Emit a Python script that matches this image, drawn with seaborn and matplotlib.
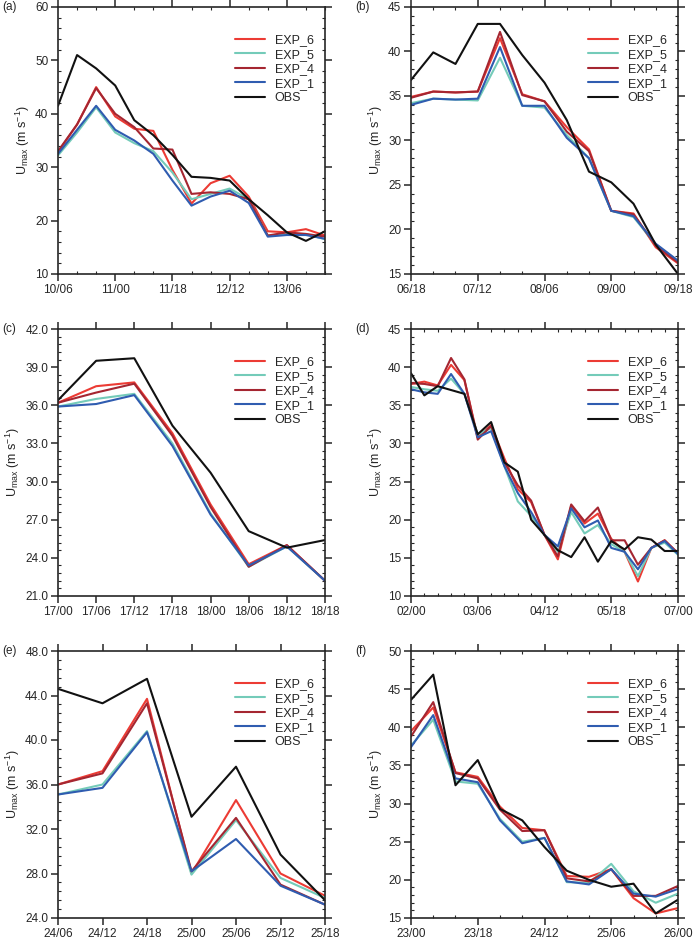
import numpy as np
import pandas as pd
import matplotlib
matplotlib.use("Agg")
import matplotlib.pyplot as plt
import seaborn as sns
from matplotlib.ticker import AutoMinorLocator, MultipleLocator, FormatStrFormatter

series = ["EXP_6", "EXP_5", "EXP_4", "EXP_1", "OBS"]
colors = {"EXP_6": "#ec3b34", "EXP_5": "#74cbb9", "EXP_4": "#a52631",
          "EXP_1": "#2f5cb0", "OBS": "#111111"}

# panel (a)
a_ticks = ["10/06", "11/00", "11/18", "12/12", "13/06"]
a_obs = [41.5, 51, 48.5, 45.3, 38.8, 36, 32.3, 28.2, 28, 27.5, 24, 21, 17.8, 16.2, 18]
a_e6 = [32.8, 38, 45, 39.5, 37.2, 36.8, 29.5, 23.2, 27, 28.4, 24.5, 18, 17.8, 18.4, 17.2]
a_e4 = [33, 38, 44.8, 40, 37.5, 33.5, 33.3, 25, 25.3, 25, 24, 17.2, 17.8, 17.5, 17]
a_e5 = [32.2, 36.5, 41.2, 36.5, 34.5, 33, 29, 24, 25, 26, 24, 17.2, 17.5, 17.5, 16.5]
a_e1 = [32.5, 37, 41.5, 37, 35, 32.5, 27.5, 22.8, 24.5, 25.6, 23.3, 17, 17.3, 17.3, 16.6]

# panel (b)
b_ticks = ["06/18", "07/12", "08/06", "09/00", "09/18"]
b_obs = [36.8, 39.9, 38.6, 43.1, 43.1, 39.6, 36.5, 32.3, 26.5, 25.3, 22.9, 18.3, 15]
b_e6 = [34.9, 35.5, 35.4, 35.5, 41.5, 35.2, 34.4, 31.5, 29, 22.1, 21.8, 18, 16.2]
b_e4 = [34.8, 35.5, 35.4, 35.5, 42.2, 35.1, 34.4, 31, 28.8, 22.1, 21.7, 18.2, 16.3]
b_e5 = [34.2, 34.7, 34.6, 34.5, 39.3, 33.9, 33.7, 30.6, 28.0, 22.1, 21.4, 18.3, 16.4]
b_e1 = [34.0, 34.7, 34.6, 34.7, 40.5, 33.9, 33.9, 30.3, 28.0, 22.1, 21.5, 18.4, 16.5]

# panel (c)
c_ticks = ["17/00", "17/06", "17/12", "17/18", "18/00", "18/06", "18/12", "18/18"]
c_obs = [36.4, 39.5, 39.7, 34.4, 30.7, 26.1, 24.8, 25.4]
c_e6 = [36.2, 37.5, 37.8, 33.8, 28.2, 23.5, 25.0, 22.2]
c_e4 = [36.2, 37.0, 37.7, 33.6, 28.0, 23.3, 25.0, 22.2]
c_e5 = [35.9, 36.5, 36.9, 33.0, 27.5, 23.3, 24.9, 22.2]
c_e1 = [35.9, 36.1, 36.8, 32.8, 27.4, 23.4, 24.9, 22.2]

# panel (d)
d_ticks = ["02/00", "03/06", "04/12", "05/18", "07/00"]
d_obs = [39.2, 36.3, 37.5, 37.0, 36.5, 31.2, 32.8, 27.5, 26.3, 20, 18, 16, 15.1, 17.7, 14.5, 17.2, 16.1, 17.7, 17.4, 15.9, 15.9]
d_e6 = [37.8, 38.1, 37.6, 40.3, 38.3, 30.8, 32.4, 28, 24, 22.3, 18, 14.8, 21.8, 19.5, 20.8, 17.5, 15.8, 11.9, 16.3, 17.3, 15.6]
d_e4 = [37.9, 37.8, 37.5, 41.2, 38.4, 30.5, 32.3, 27.5, 24.5, 22.5, 18, 15.2, 22, 19.8, 21.6, 17.3, 17.3, 14.1, 16.3, 17.3, 15.6]
d_e5 = [37.4, 37.1, 36.9, 38.5, 36.5, 31.2, 32, 27, 22.4, 20.5, 18, 15.8, 21, 18.2, 19.3, 16.8, 15.8, 12.6, 16.3, 17, 15.4]
d_e1 = [37.1, 36.7, 36.5, 39.1, 36.5, 30.8, 31.6, 27, 23.5, 21, 18, 16.5, 21.5, 19, 19.9, 16.3, 15.8, 13.5, 16.3, 17.2, 15.5]

# panel (e)
e_ticks = ["24/06", "24/12", "24/18", "25/00", "25/06", "25/12", "25/18"]
e_obs = [44.6, 43.3, 45.5, 33.1, 37.6, 29.7, 25.6]
e_e6 = [36.0, 37.2, 43.7, 28.0, 34.6, 28.0, 26.0]
e_e4 = [36.0, 37.0, 43.3, 28.2, 33.0, 27.0, 25.2]
e_e5 = [35.1, 36.0, 40.8, 27.9, 32.8, 27.6, 25.8]
e_e1 = [35.1, 35.7, 40.7, 28.2, 31.1, 26.9, 25.2]

# panel (f)
f_ticks = ["23/00", "23/18", "24/12", "25/06", "26/00"]
f_obs = [43.6, 46.9, 32.4, 35.7, 29.3, 27.8, 24.3, 21.2, 20.0, 19.1, 19.5, 15.6, 17.4]
f_e6 = [39.5, 42.6, 34.1, 33.5, 29.6, 26.8, 26.5, 20.5, 20.4, 21.4, 17.6, 15.6, 16.3]
f_e4 = [38.8, 43.3, 34, 33.3, 29.2, 26.4, 26.5, 20.2, 19.8, 21.4, 17.9, 17.9, 19.2]
f_e5 = [37.6, 41, 32.9, 32.6, 28, 25, 25.5, 19.7, 19.6, 22.1, 18.5, 17, 18.2]
f_e1 = [37.4, 41.6, 33.3, 32.8, 27.8, 24.8, 25.5, 19.8, 19.4, 21.4, 18.2, 17.8, 18.8]

panels = [
    ("(a)", a_ticks, 3, (10, 60), 10, "%d", [a_e6, a_e5, a_e4, a_e1, a_obs]),
    ("(b)", b_ticks, 3, (15, 45), 5, "%d", [b_e6, b_e5, b_e4, b_e1, b_obs]),
    ("(c)", c_ticks, 1, (21, 42), 3, "%.1f", [c_e6, c_e5, c_e4, c_e1, c_obs]),
    ("(d)", d_ticks, 5, (10, 45), 5, "%d", [d_e6, d_e5, d_e4, d_e1, d_obs]),
    ("(e)", e_ticks, 1, (24, 48), 4, "%.1f", [e_e6, e_e5, e_e4, e_e1, e_obs]),
    ("(f)", f_ticks, 3, (15, 50), 5, "%d", [f_e6, f_e5, f_e4, f_e1, f_obs]),
]

sns.set_theme(style="ticks")
plt.rcParams['font.family'] = ['Liberation Sans', 'DejaVu Sans']
plt.rcParams['mathtext.fontset'] = 'custom'
plt.rcParams['mathtext.rm'] = 'Liberation Sans'
fig = plt.figure(figsize=(6.94, 9.44), dpi=100)
W, H = 694, 944
lefts = [58, 411]
rows = [(7, 274), (329, 596), (651, 918)]

for i, (lab, ticks, step, ylim, ymaj, fmt, vals) in enumerate(panels):
    r, c = divmod(i, 2)
    top, bot = rows[r]
    ax = fig.add_axes([lefts[c] / W, 1 - bot / H, 267 / W, (bot - top) / H])
    n = len(vals[0])
    df = pd.concat([pd.DataFrame({"t": np.arange(n), "u": v, "run": s})
                    for s, v in zip(series, vals)])
    sns.lineplot(data=df, x="t", y="u", hue="run", hue_order=series,
                 palette=colors, linewidth=1.5, ax=ax)
    ax.set_xlim(0, n - 1)
    ax.set_xticks(np.arange(0, step * len(ticks), step))
    ax.set_xticklabels(ticks)
    ax.xaxis.set_minor_locator(MultipleLocator(1))
    ax.set_ylim(*ylim)
    ax.yaxis.set_major_locator(MultipleLocator(ymaj))
    ax.yaxis.set_major_formatter(FormatStrFormatter(fmt))
    ax.yaxis.set_minor_locator(AutoMinorLocator(5))
    ax.tick_params(which="both", direction="in", top=True, right=True,
                   labelsize=8.5, pad=2)
    ax.tick_params(which="major", length=5, width=1.1, direction="out")
    ax.tick_params(which="minor", length=2.5, width=0.8)
    for sp in ax.spines.values():
        sp.set_linewidth(1.2)
    ax.set_xlabel("")
    ax.set_ylabel(r"U$_{\mathrm{max}}$ (m s$^{-1}$)", fontsize=9, labelpad=2)
    ax.legend(frameon=False, loc="upper right", fontsize=9,
              handlelength=2.4, labelspacing=0.2, bbox_to_anchor=(1.0, 0.94))
    ax.text(-0.21, 1.0, lab, transform=ax.transAxes, fontsize=8.5, va="center")

fig.savefig("out.png", dpi=100)
